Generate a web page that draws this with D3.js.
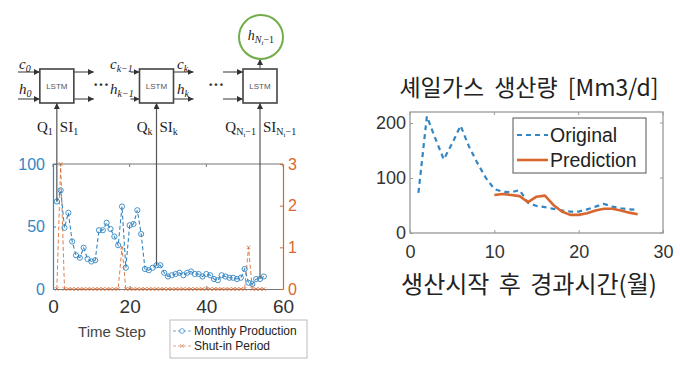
<!DOCTYPE html>
<html><head><meta charset="utf-8">
<script src="https://cdn.jsdelivr.net/npm/d3@7"></script>
<style>
body{margin:0;background:#fff;}
svg{display:block;}
</style></head><body>
<svg id="c" width="680" height="365"></svg>
<script>
// ---------- data ----------
const timeSteps = [1,2,3,4,5,6,7,8,9,10,11,12,13,14,15,16,17,18,19,20,21,22,23,24,25,26,27,28,29,30,31,32,33,34,35,36,37,38,39,40,41,42,43,44,45,46,47,48,49,50,51,52,53,54,55];
const monthlyProduction = [70,79,49,61,38,27,25,33,24,22,23,47,47,53,48,42,35,66,17,51,52,63,44,16,15,17,19,19,13,10,11,12,13,11,13,14,12,12,10,12,11,8,7,11,10,9,9,8,9,16,5,4,8,8,10];
const shutInPeriod = [0,3,0,0,0,0,0,0,0,0,0,0,0,0,0,0,0,1,0,0,0,0,0,0,0,0,0,0,0,0,0,0,0,0,0,0,0,0,0,0,0,0,0,0,0,0,0,0,0,0,1,0,0,0,0];
const leftXTicks = [0,20,40,60];
const leftYTicks = [0,50,100];
const rightYTicks = [0,1,2,3];
const lstmSteps = [1,27,54];

const months = [1,2,3,4,5,6,7,8,9,10,11,12,13,14,15,16,17,18,19,20,21,22,23,24,25,26,27];
const original = [73,212,172,134,163,195,157,127,100,80,75,74,78,55,49,47,44,41,39,39,43,48,53,48,45,43,42];
const predMonths = [10,11,12,13,14,15,16,17,18,19,20,21,22,23,24,25,26,27];
const prediction = [69,71,69,67,56,66,68,51,39,33,33,36,41,44,44,41,37,34];
const gasXTicks = [0,10,20,30];
const gasYTicks = [0,100,200];

// ---------- setup ----------
const svg = d3.select('#c');
const BLUE = '#3386c3', ORANGE = '#d8672f', LINE = '#555';
const SANS = "'Liberation Sans', Arial, sans-serif";
const SERIF = "'Liberation Serif', 'DejaVu Serif', serif";
const KR = "'Noto Sans CJK KR', sans-serif";
const fmt = d3.format('d');

const defs = svg.append('defs');
defs.append('marker').attr('id','arr').attr('viewBox','0 0 10 10')
  .attr('refX',10).attr('refY',5).attr('markerWidth',6).attr('markerHeight',6)
  .attr('markerUnits','userSpaceOnUse').attr('orient','auto')
  .append('path').attr('d','M0,0L10,5L0,10z').attr('fill','#333');

// ---------- left chart ----------
const xL = d3.scaleLinear().domain([0,60]).range([53,283]);
const yL = d3.scaleLinear().domain([0,100]).range([289,164]);
const yR = d3.scaleLinear().domain([0,3]).range([289,164]);
const gL = svg.append('g');

gL.append('line').attr('x1',xL(0)).attr('x2',xL(60)).attr('y1',yL(100)).attr('y2',yL(100))
  .attr('stroke','#777').attr('stroke-width',1.2);
gL.selectAll('line.tt').data(leftXTicks).join('line').attr('class','tt')
  .attr('x1',d=>xL(d)).attr('x2',d=>xL(d)).attr('y1',yL(100)).attr('y2',yL(100)+3)
  .attr('stroke','#777');

function styleAxis(g, color, size, fam){
  g.select('.domain').attr('stroke',color).attr('stroke-width',1.2);
  g.selectAll('.tick line').attr('stroke',color);
  g.selectAll('.tick text').attr('font-family',fam||SANS).attr('font-size',size).attr('fill',color==='#777'?'#333':color);
}
gL.append('g').attr('transform',`translate(0,${yL(0)})`)
  .call(d3.axisBottom(xL).tickValues(leftXTicks).tickFormat(fmt).tickSize(-3).tickSizeOuter(0).tickPadding(11))
  .call(g=>styleAxis(g,'#777',19));
gL.append('g').attr('transform',`translate(${xL(0)},0)`)
  .call(d3.axisLeft(yL).tickValues(leftYTicks).tickFormat(fmt).tickSize(-3).tickSizeOuter(0).tickPadding(8))
  .call(g=>styleAxis(g,BLUE,16));
gL.append('g').attr('transform',`translate(${xL(60)},0)`)
  .call(d3.axisRight(yR).tickValues(rightYTicks).tickFormat(fmt).tickSize(-3).tickSizeOuter(0).tickPadding(5))
  .call(g=>styleAxis(g,ORANGE,16));

// shut-in series
const shut = timeSteps.map((t,i)=>({t, v:shutInPeriod[i]}));
gL.append('path').datum(shut)
  .attr('d', d3.line().x(d=>xL(d.t)).y(d=>yR(d.v)))
  .attr('fill','none').attr('stroke',ORANGE).attr('stroke-width',1).attr('stroke-dasharray','4,2.5').attr('opacity',0.85);
gL.selectAll('path.xm').data(shut).join('path').attr('class','xm')
  .attr('transform',d=>`translate(${xL(d.t)},${yR(d.v)})`)
  .attr('d','M-1.8,-1.8L1.8,1.8M-1.8,1.8L1.8,-1.8')
  .attr('stroke',ORANGE).attr('stroke-width',0.9).attr('fill','none').attr('opacity',0.85);

// production series
const prod = timeSteps.map((t,i)=>({t, v:monthlyProduction[i]}));
gL.append('path').datum(prod)
  .attr('d', d3.line().x(d=>xL(d.t)).y(d=>yL(d.v)))
  .attr('fill','none').attr('stroke',BLUE).attr('stroke-width',1.1).attr('stroke-dasharray','4,2.5');
gL.selectAll('circle.pt').data(prod).join('circle').attr('class','pt')
  .attr('cx',d=>xL(d.t)).attr('cy',d=>yL(d.v)).attr('r',2.6)
  .attr('fill','none').attr('stroke',BLUE).attr('stroke-width',0.9);

gL.append('text').attr('x',112).attr('y',337).attr('text-anchor','middle')
  .attr('font-family',SANS).attr('font-size',15).attr('fill','#444').text('Time Step');

// legend
const lg = gL.append('g');
lg.append('rect').attr('x',170).attr('y',320).attr('width',137).attr('height',38)
  .attr('fill','#fff').attr('stroke','#bbb');
lg.append('line').attr('x1',173).attr('x2',191).attr('y1',331).attr('y2',331)
  .attr('stroke',BLUE).attr('stroke-dasharray','3,2').attr('opacity',0.7);
lg.append('circle').attr('cx',182).attr('cy',331).attr('r',2.4).attr('fill','#fff').attr('stroke',BLUE).attr('opacity',0.7);
lg.append('line').attr('x1',173).attr('x2',191).attr('y1',346).attr('y2',346)
  .attr('stroke',ORANGE).attr('stroke-dasharray','3,2').attr('opacity',0.6);
lg.append('path').attr('transform','translate(182,346)').attr('d','M-1.8,-1.8L1.8,1.8M-1.8,1.8L1.8,-1.8')
  .attr('stroke',ORANGE).attr('opacity',0.6);
lg.append('text').attr('x',194).attr('y',335).attr('font-family',SANS).attr('font-size',12).attr('fill','#222').text('Monthly Production');
lg.append('text').attr('x',194).attr('y',350).attr('font-family',SANS).attr('font-size',12).attr('fill','#222').text('Shut-in Period');

// ---------- LSTM diagram ----------
const gD = svg.append('g');
const boxTop = 69, boxH = 34, boxW = 34;
lstmSteps.forEach((s,i)=>{
  const cx = xL(s);
  const v = monthlyProduction[timeSteps.indexOf(s)];
  gD.append('line').attr('x1',cx).attr('x2',cx).attr('y1',yL(v)).attr('y2',boxTop+boxH)
    .attr('stroke',LINE).attr('stroke-width',1.2).attr('marker-end','url(#arr)');
  gD.append('rect').attr('x',cx-boxW/2).attr('y',boxTop).attr('width',boxW).attr('height',boxH)
    .attr('fill','#fff').attr('stroke','#444').attr('stroke-width',1.6);
  gD.append('text').attr('x',cx).attr('y',boxTop+boxH/2+3).attr('text-anchor','middle')
    .attr('font-family',SANS).attr('font-size',8).attr('fill','#555').text('LSTM');
  const inStart = i===0 ? 18 : cx-boxW/2-(i===1?9:20);
  [72,99].forEach(y=>{
    gD.append('line').attr('x1',inStart).attr('x2',cx-boxW/2).attr('y1',y).attr('y2',y)
      .attr('stroke',LINE).attr('stroke-width',1.2).attr('marker-end','url(#arr)');
    if(i<2) gD.append('line').attr('x1',cx+boxW/2).attr('x2',cx+boxW/2+20).attr('y1',y).attr('y2',y)
      .attr('stroke',LINE).attr('stroke-width',1.2).attr('marker-end','url(#arr)');
  });
  const qt = gD.append('text').attr('x',cx-4).attr('y',132).attr('text-anchor','end')
    .attr('font-family',SERIF).attr('font-size',15).attr('fill','#222');
  const st = gD.append('text').attr('x',cx+3).attr('y',132)
    .attr('font-family',SERIF).attr('font-size',15).attr('fill','#222');
  const sub = i===0 ? '1' : (i===1 ? 'k' : null);
  qt.append('tspan').text('Q');
  st.append('tspan').text('SI');
  [qt,st].forEach(t=>{
    if(sub){ t.append('tspan').attr('font-size',10).attr('dy',3).text(sub); }
    else {
      t.append('tspan').attr('font-size',10).attr('dy',3).text('N');
      t.append('tspan').attr('font-size',7).attr('dy',2).text('t');
      t.append('tspan').attr('font-size',10).attr('dy',-2).text('−1');
    }
  });
  if(i===2){
    gD.append('line').attr('x1',cx).attr('x2',cx).attr('y1',boxTop).attr('y2',59)
      .attr('stroke',LINE).attr('stroke-width',1.2).attr('marker-end','url(#arr)');
    gD.append('circle').attr('cx',cx+1).attr('cy',37).attr('r',22)
      .attr('fill','#fff').attr('stroke','#72ad4a').attr('stroke-width',2);
    const ht = gD.append('text').attr('x',cx+1).attr('y',40).attr('text-anchor','middle')
      .attr('font-family',SERIF).attr('font-size',14).attr('fill','#222');
    ht.append('tspan').attr('font-style','italic').text('h');
    ht.append('tspan').attr('font-size',10).attr('font-style','italic').attr('dy',3).text('N');
    ht.append('tspan').attr('font-size',7).attr('font-style','italic').attr('dy',2).text('t');
    ht.append('tspan').attr('font-size',10).attr('dy',-2).text('−1');
  }
});
function mathLabel(x,y,base,subs){
  const t = gD.append('text').attr('x',x).attr('y',y).attr('font-family',SERIF)
    .attr('font-size',15).attr('font-style','italic').attr('fill','#222');
  t.append('tspan').text(base);
  t.append('tspan').attr('font-size',10).attr('dy',3).text(subs);
}
mathLabel(19,69,'c','0'); mathLabel(19,94,'h','0');
mathLabel(110,69,'c','k−1'); mathLabel(110,94,'h','k−1');
mathLabel(177,69,'c','k'); mathLabel(177,94,'h','k');
[[101,90],[216,90]].forEach(p=>gD.append('text').attr('x',p[0]).attr('y',p[1]).attr('text-anchor','middle')
  .attr('font-family',SERIF).attr('font-size',16).attr('font-weight','bold').attr('fill','#333').text('···'));

// ---------- right chart ----------
const x2 = d3.scaleLinear().domain([0,30]).range([410,663]);
const y2 = d3.scaleLinear().domain([0,220]).range([233,112]);
const gR = svg.append('g');
gR.append('rect').attr('x',x2(0)).attr('y',y2(220)).attr('width',x2(30)-x2(0)).attr('height',y2(0)-y2(220))
  .attr('fill','none').attr('stroke','#999').attr('stroke-width',1.3);
gR.append('g').attr('transform',`translate(0,${y2(0)})`)
  .call(d3.axisBottom(x2).tickValues(gasXTicks).tickFormat(fmt).tickSize(-3).tickSizeOuter(0).tickPadding(12))
  .call(g=>{styleAxis(g,'#999',18); g.selectAll('.tick text').attr('fill','#333'); g.select('.domain').remove();});
gR.append('g').attr('transform',`translate(${x2(0)},0)`)
  .call(d3.axisLeft(y2).tickValues(gasYTicks).tickFormat(fmt).tickSize(-3).tickSizeOuter(0).tickPadding(4))
  .call(g=>{styleAxis(g,'#999',18); g.selectAll('.tick text').attr('fill','#333'); g.select('.domain').remove();});
gR.selectAll('line.tt2').data(gasXTicks).join('line').attr('class','tt2')
  .attr('x1',d=>x2(d)).attr('x2',d=>x2(d)).attr('y1',y2(220)).attr('y2',y2(220)+3).attr('stroke','#999');
gR.selectAll('line.rt2').data(gasYTicks).join('line').attr('class','rt2')
  .attr('x1',x2(30)).attr('x2',x2(30)-3).attr('y1',d=>y2(d)).attr('y2',d=>y2(d)).attr('stroke','#999');

const orig = months.map((m,i)=>({m, v:original[i]}));
const pred = predMonths.map((m,i)=>({m, v:prediction[i]}));
const line2 = d3.line().x(d=>x2(d.m)).y(d=>y2(d.v));
gR.append('path').datum(orig).attr('d',line2).attr('fill','none')
  .attr('stroke',BLUE).attr('stroke-width',2.2).attr('stroke-dasharray','5,4');
gR.append('path').datum(pred).attr('d',line2).attr('fill','none')
  .attr('stroke',ORANGE).attr('stroke-width',2.6).attr('stroke-linejoin','round');

gR.append('rect').attr('x',513).attr('y',118).attr('width',133).attr('height',55)
  .attr('fill','#fff').attr('stroke','#555').attr('stroke-width',1);
gR.append('line').attr('x1',517).attr('x2',548).attr('y1',135).attr('y2',135)
  .attr('stroke',BLUE).attr('stroke-width',2.2).attr('stroke-dasharray','5,4');
gR.append('line').attr('x1',517).attr('x2',548).attr('y1',160).attr('y2',160)
  .attr('stroke',ORANGE).attr('stroke-width',2.6);
gR.append('text').attr('x',550).attr('y',142).attr('font-family',SANS).attr('font-size',19.5).attr('fill','#222').text('Original');
gR.append('text').attr('x',550).attr('y',167).attr('font-family',SANS).attr('font-size',19.5).attr('fill','#222').text('Prediction');

gR.append('text').attr('x',529).attr('y',96).attr('text-anchor','middle')
  .attr('word-spacing',5)
  .attr('font-family',KR).attr('font-size',23).attr('fill','#222').text('셰일가스 생산량 [Mm3/d]');
gR.append('text').attr('x',529).attr('y',293).attr('text-anchor','middle')
  .attr('word-spacing',4)
  .attr('font-family',KR).attr('font-size',24).attr('fill','#222').text('생산시작 후 경과시간(월)');
</script>
</body></html>
